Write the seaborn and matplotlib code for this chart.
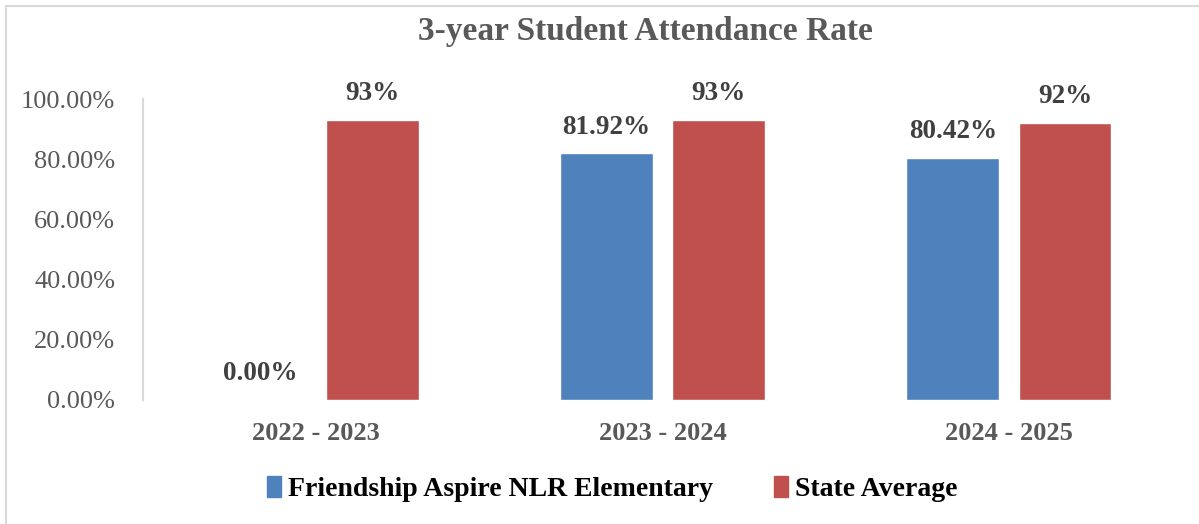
import matplotlib
matplotlib.use("Agg")
import matplotlib.pyplot as plt
from matplotlib.patches import Rectangle
from matplotlib.ticker import FuncFormatter
import pandas as pd
import seaborn as sns

# Attendance data (percent)
years = ["2022 - 2023", "2023 - 2024", "2024 - 2025"]
school_name = "Friendship Aspire NLR Elementary"
state_name = "State Average"
school_rates = [0.00, 81.92, 80.42]
state_rates = [93, 93, 92]
school_labels = ["0.00%", "81.92%", "80.42%"]
state_labels = ["93%", "93%", "92%"]

colors = {school_name: "#4F81BD", state_name: "#C0504D"}

df = pd.DataFrame({
    "Year": years * 2,
    "Series": [school_name] * 3 + [state_name] * 3,
    "Rate": school_rates + state_rates,
})

sns.set_theme(style="white")
plt.rcParams["font.family"] = ["Liberation Serif", "DejaVu Serif"]

fig = plt.figure(figsize=(11.99, 5.24), dpi=100)
fig.patch.set_facecolor("white")

# Chart frame
fig.patches.append(Rectangle((6 / 1199, -0.05), 1.2, 1 - 6 / 524 + 0.05,
                             transform=fig.transFigure, fill=False,
                             edgecolor="#D9D9D9", linewidth=1.5))

ax = fig.add_axes([143 / 1199, 1 - 400 / 524, (1182 - 143) / 1199, 301 / 524])
sns.barplot(data=df, x="Year", y="Rate", hue="Series", palette=colors,
            width=0.648, gap=0.173, ax=ax, legend=False, saturation=1)

ax.set_ylim(0, 100)
ax.set_yticks([0, 20, 40, 60, 80, 100])
ax.yaxis.set_major_formatter(FuncFormatter(lambda v, p: f"{v:.2f}%"))
ax.set_xlabel("")
ax.set_ylabel("")
for s in ["top", "right", "bottom"]:
    ax.spines[s].set_visible(False)
ax.spines["left"].set_color("#D9D9D9")
ax.spines["left"].set_linewidth(1.5)
ax.tick_params(axis="y", length=0, pad=20, labelsize=19, labelcolor="#595959")
ax.tick_params(axis="x", length=0, pad=16, labelsize=19, labelcolor="#595959")
for t in ax.get_xticklabels():
    t.set_fontweight("bold")

# Value labels above each bar
label_lists = [school_labels, state_labels]
for container, labels in zip(ax.containers, label_lists):
    ax.bar_label(container, labels=labels, padding=10, fontsize=19.5,
                 fontweight="bold", color="#404040")

ax.set_title("3-year Student Attendance Rate", fontsize=24, fontweight="bold",
             color="#595959", pad=0, x=0.484, y=1 + 59 / 301)

# Legend
handles = [Rectangle((0, 0), 1, 1, color=colors[n]) for n in [school_name, state_name]]
leg = fig.legend(handles, [school_name, state_name], loc="center",
                 bbox_to_anchor=(612 / 1199, 1 - 489 / 524), ncol=2, frameon=False,
                 prop={"size": 20, "weight": "bold"}, handlelength=0.5,
                 handleheight=0.8, handletextpad=0.25, columnspacing=2.2)
for t in leg.get_texts():
    t.set_color("black")

fig.savefig("out.png", dpi=100, facecolor="white")
